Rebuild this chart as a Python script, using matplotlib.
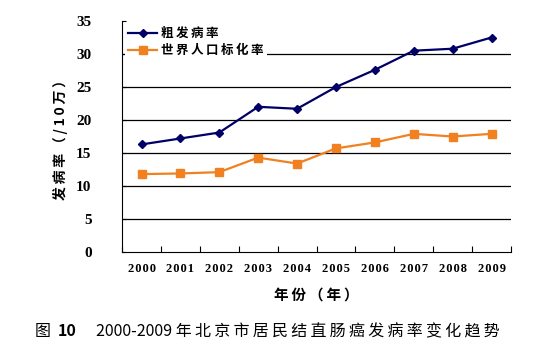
import matplotlib
matplotlib.use("Agg")
import matplotlib.pyplot as plt
import numpy as np

years = ["2000", "2001", "2002", "2003", "2004", "2005", "2006", "2007", "2008", "2009"]
crude = [16.3, 17.2, 18.1, 22.0, 21.7, 25.0, 27.6, 30.5, 30.8, 32.5]
asr = [11.8, 11.9, 12.1, 14.3, 13.4, 15.7, 16.6, 17.9, 17.5, 17.9]
names = ["粗发病率", "世界人口标化率"]

cjk = ["Noto Sans CJK SC", "DejaVu Sans"]
serif = ["Liberation Serif", "DejaVu Sans"]


def spaced(s, sep="\u2009"):
    # wide letter spacing like the original
    return sep.join(s)


fig = plt.figure(figsize=(5.5, 3.5), dpi=100)
ax = fig.add_axes([0.222, 0.28, 0.707, 0.66])

x = np.arange(len(years))
ax.plot(x, crude, color="#000066", marker="D", markersize=4.5, lw=1.6, label=spaced(names[0]))
ax.plot(x, asr, color="#F08020", marker="s", markersize=5.5, lw=1.6, label=spaced(names[1]))

ax.set_xlim(-0.5, len(years) - 0.5)
ax.set_ylim(0, 35)
ax.set_yticks(range(0, 36, 5))
for v in range(5, 35, 5):
    ax.axhline(v, color="black", lw=0.9, zorder=0)

ax.set_xticks(x)
ax.set_xticklabels([spaced(y, "\u200a") for y in years], fontfamily=serif, fontweight="bold", fontsize=9)
ax.set_xticks(np.arange(-0.5, len(years), 1), minor=True)
ax.tick_params(axis="x", which="major", length=0, pad=8)
ax.tick_params(axis="x", which="minor", direction="in", length=4, width=0.8)
ax.tick_params(axis="y", direction="in", length=3, pad=22, labelsize=11)
for t in ax.get_yticklabels():
    t.set_fontfamily(serif)
    t.set_fontweight("bold")

ax.spines["top"].set_visible(False)
ax.spines["right"].set_visible(False)

ax.set_ylabel(spaced("发病率（/10万）"), fontfamily=cjk, fontweight="bold", fontsize=10, labelpad=6)
ax.set_xlabel(spaced("年份（年）"), fontfamily=cjk, fontweight="bold", fontsize=10.5, labelpad=8)

leg = ax.legend(loc="upper left", bbox_to_anchor=(0.0, 1.0), prop={"family": cjk, "weight": "bold", "size": 9},
                frameon=True, fancybox=False, edgecolor="none", facecolor="white", framealpha=1,
                handlelength=2.3, handletextpad=0.3, borderaxespad=0.2, labelspacing=0.3, borderpad=0.3)

fig.text(35 / 550, 0.04, "图", fontfamily=cjk, fontsize=11.5)
fig.text(58 / 550, 0.04, "10", fontfamily=cjk, fontsize=11.5, fontweight="bold")
fig.text(96 / 550, 0.04, "2000-2009 " + spaced("年北京市居民结直肠癌发病率变化趋势"),
         fontfamily=cjk, fontsize=11.5)

fig.savefig("out.png", dpi=100)
